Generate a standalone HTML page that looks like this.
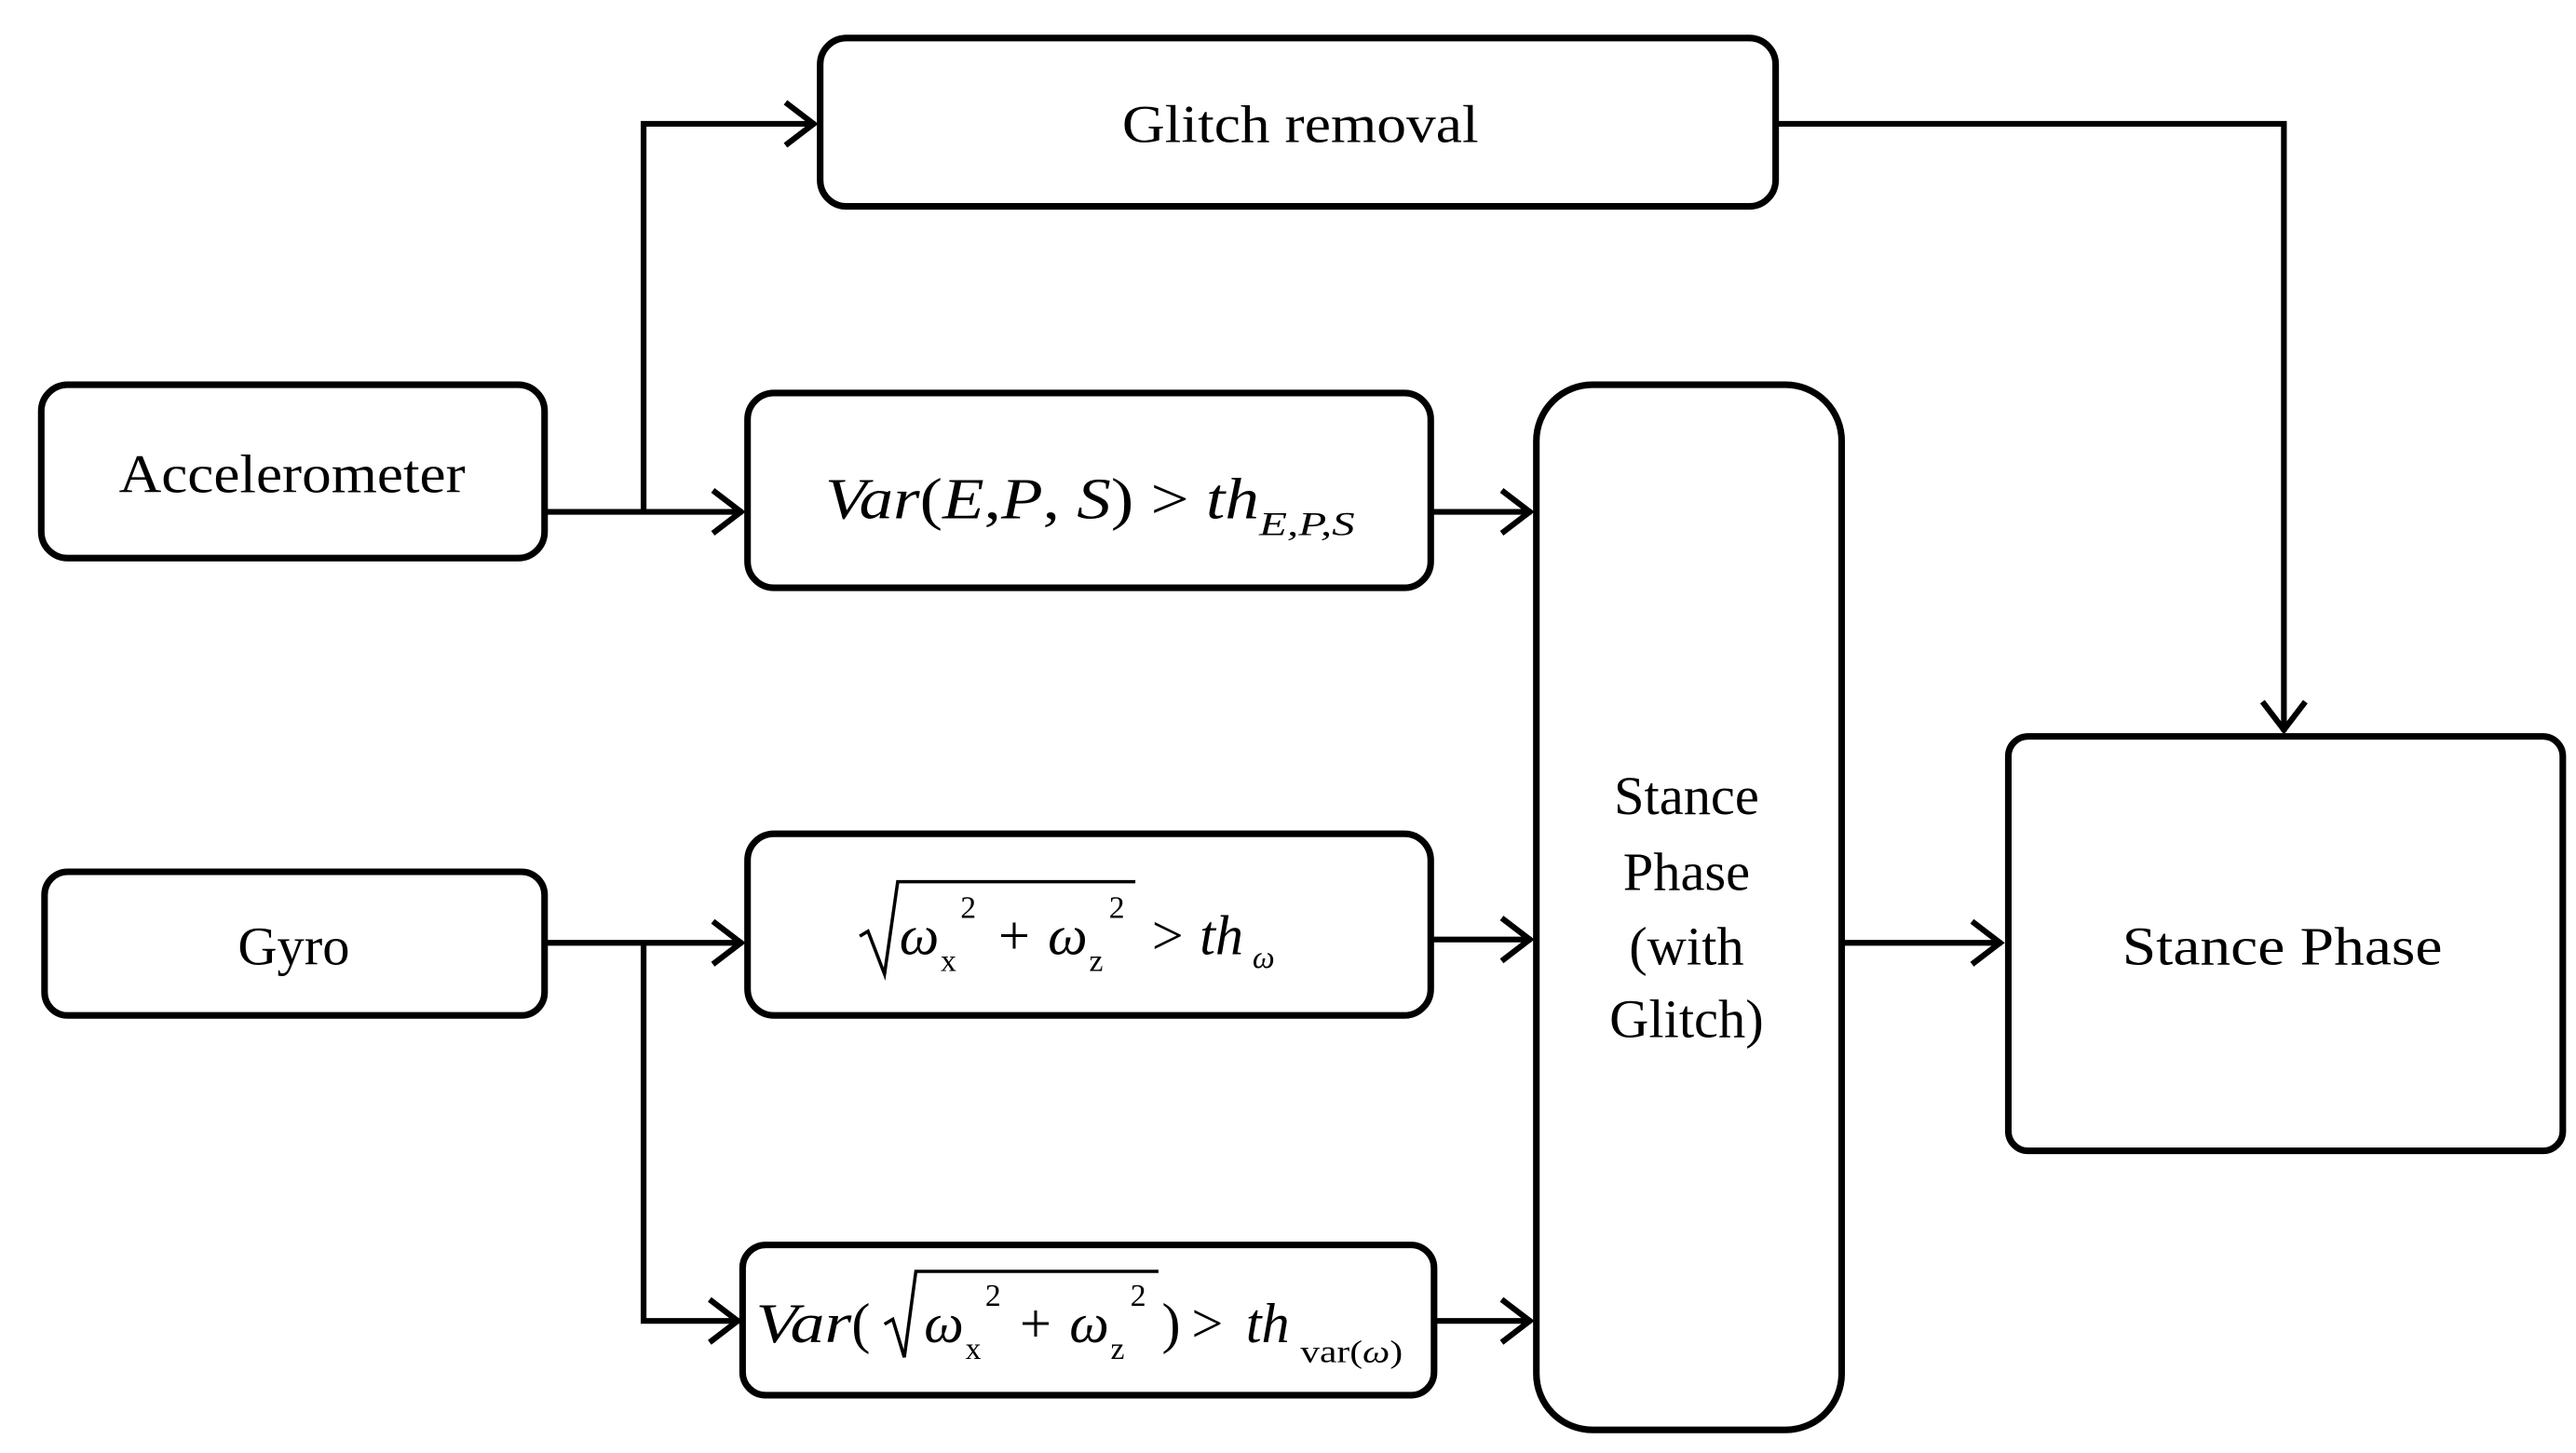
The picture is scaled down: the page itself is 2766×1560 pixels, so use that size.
<!DOCTYPE html>
<html><head><meta charset="utf-8"><style>
html,body{margin:0;padding:0;background:#fff;}
svg{display:block;}
text{font-family:"Liberation Serif",serif;fill:#000;}
.i{font-style:italic;}
</style></head><body>
<svg width="2766" height="1560" viewBox="0 0 1561 880" preserveAspectRatio="none" xmlns="http://www.w3.org/2000/svg">
<g fill="none" stroke="#000" stroke-width="4">
<rect x="497" y="23" width="579" height="102" rx="16"/>
<rect x="25" y="233" width="305" height="105" rx="16"/>
<rect x="453" y="238" width="414" height="118" rx="16"/>
<rect x="27" y="528" width="303" height="87" rx="14"/>
<rect x="453" y="505" width="414" height="110" rx="16"/>
<rect x="450" y="754" width="419" height="91" rx="14"/>
<rect x="931" y="233" width="185" height="633" rx="34"/>
<rect x="1217" y="446" width="336" height="251" rx="12"/>
</g>
<g fill="none" stroke="#000" stroke-width="3.5">
<path d="M330 310H450M390 310V75H494"/>
<path d="M1076 75H1384V443"/>
<path d="M867 310H928M867 569H928M869 800H928"/>
<path d="M330 571H450M390 571V800H448"/>
<path d="M1116 571H1213"/>
<path d="M476 62L493 75L476 88M432 297L449 310L432 323M910 297L927 310L910 323M432 558L449 571L432 584M910 556L927 569L910 582M430 787L447 800L430 813M910 787L927 800L910 813M1195 558L1212 571L1195 584M1371 425L1384 442L1397 425"/>
<path d="M521 567L526 564L536 590L544 534H688M536 802L541 799L548 822L555 770H702" stroke-width="2"/>
</g>
<text x="788" y="86" font-size="32" text-anchor="middle" textLength="216" lengthAdjust="spacingAndGlyphs">Glitch  removal</text>
<text x="177" y="298" font-size="33" text-anchor="middle" textLength="210" lengthAdjust="spacingAndGlyphs">Accelerometer</text>
<text x="178" y="584" font-size="33" text-anchor="middle">Gyro</text>
<text x="1022" y="493" font-size="33" text-anchor="middle">Stance</text>
<text x="1022" y="539" font-size="33" text-anchor="middle">Phase</text>
<text x="1022" y="584" font-size="33" text-anchor="middle">(with</text>
<text x="1022" y="628" font-size="33" text-anchor="middle">Glitch)</text>
<text x="1383" y="584" font-size="33" text-anchor="middle" textLength="194" lengthAdjust="spacingAndGlyphs">Stance  Phase</text>

<text x="500" y="314" font-size="35" textLength="263" lengthAdjust="spacingAndGlyphs"><tspan class="i">Var</tspan>(<tspan class="i">E</tspan>,<tspan class="i">P</tspan>, <tspan class="i">S</tspan>) &gt; <tspan class="i">th</tspan></text>
<text x="763" y="324" font-size="20" class="i" textLength="58" lengthAdjust="spacingAndGlyphs">E,P,S</text>

<g font-size="34">
<text x="545" y="578" class="i">ω</text>
<text x="570" y="588" font-size="19">x</text>
<text x="582" y="556" font-size="19">2</text>
<text x="605" y="578">+</text>
<text x="635" y="578" class="i">ω</text>
<text x="660" y="588" font-size="19">z</text>
<text x="672" y="556" font-size="19">2</text>
<text x="698" y="578">&gt;</text>
<text x="727" y="578" class="i">th</text>
<text x="759" y="586" font-size="19" class="i">ω</text>

<text x="458" y="813" class="i" textLength="58" lengthAdjust="spacingAndGlyphs">Var</text>
<text x="516" y="813">(</text>
<text x="560" y="813" class="i">ω</text>
<text x="585" y="823" font-size="19">x</text>
<text x="597" y="791" font-size="19">2</text>
<text x="618" y="813">+</text>
<text x="648" y="813" class="i">ω</text>
<text x="673" y="823" font-size="19">z</text>
<text x="685" y="791" font-size="19">2</text>
<text x="704" y="813">)</text>
<text x="722" y="813">&gt;</text>
<text x="755" y="813" class="i">th</text>
<text x="788" y="825" font-size="19" textLength="62" lengthAdjust="spacingAndGlyphs">var(<tspan class="i">ω</tspan>)</text>
</g>
</svg>
</body></html>
